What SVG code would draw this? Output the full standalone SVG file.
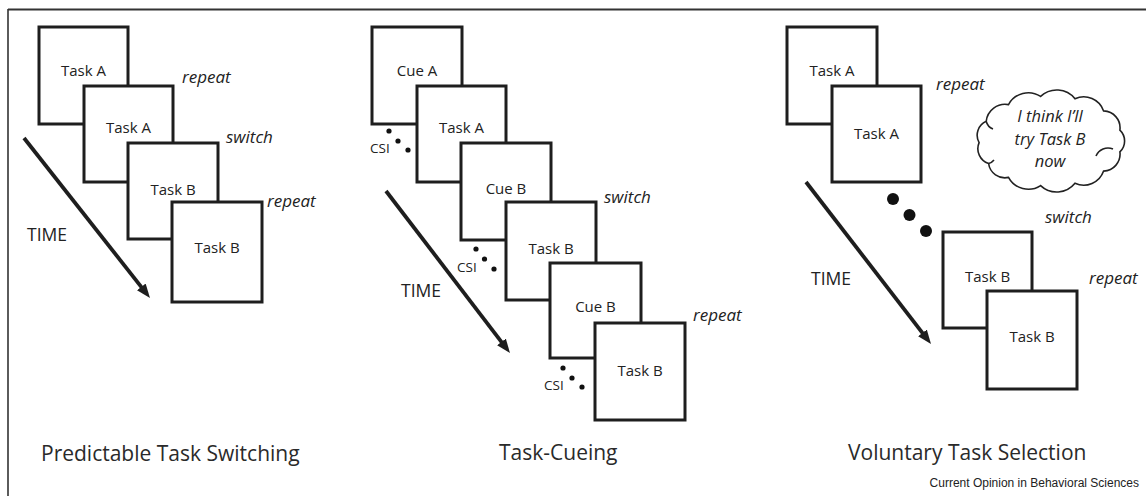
<svg xmlns="http://www.w3.org/2000/svg" width="1146" height="496" viewBox="0 0 1146 496">
<defs>
<style>
.box{fill:#fff;stroke:#1e1e1e;stroke-width:3}
.lbl{font-family:"Open Sans","Noto Sans",sans-serif;font-size:15px;fill:#222;text-anchor:middle}
.it{font-family:"Open Sans","Noto Sans",sans-serif;font-size:17px;font-style:italic;fill:#222}
.time{font-family:"Open Sans","Noto Sans",sans-serif;font-size:17.5px;fill:#222}
.csi{font-family:"Open Sans","Noto Sans",sans-serif;font-size:13.5px;fill:#222}
.title{font-family:"Open Sans","Noto Sans",sans-serif;font-size:21px;fill:#2a2a2a}
.arrow{stroke:#1e1e1e;stroke-width:3.8;fill:none;marker-end:url(#ah)}
.dot{fill:#111}
.cl{fill:none;stroke:#222;stroke-width:1.6}
.cloudtxt{font-family:"Open Sans","Noto Sans",sans-serif;font-size:16.5px;font-style:italic;fill:#222;text-anchor:middle}
</style>
<marker id="ah" viewBox="0 0 14 11" refX="4" refY="5.5" markerWidth="14" markerHeight="11" markerUnits="userSpaceOnUse" orient="auto">
<path d="M0,0 L14,5.5 L0,11 z" fill="#1e1e1e"/>
</marker>
</defs>
<rect x="0" y="0" width="1146" height="496" fill="#fff"/>
<g id="frame">
<line x1="8" y1="9.5" x2="1146" y2="9.5" stroke="#333" stroke-width="2"/>
<line x1="8" y1="9" x2="8" y2="496" stroke="#333" stroke-width="1.6"/>
</g>

<!-- Left panel -->
<g id="left-panel">
<g id="L1"><rect class="box" x="39" y="27" width="89" height="97"/><text class="lbl" x="83.5" y="76">Task A</text></g>
<g id="L2"><rect class="box" x="84" y="86" width="89" height="96"/><text class="lbl" x="128.5" y="133">Task A</text></g>
<g id="L3"><rect class="box" x="128" y="143" width="90" height="96"/><text class="lbl" x="173" y="195">Task B</text></g>
<g id="L4"><rect class="box" x="172" y="202" width="90" height="100"/><text class="lbl" x="217" y="253">Task B</text></g>
<text class="it" x="182" y="83">repeat</text>
<text class="it" x="226" y="143">switch</text>
<text class="it" x="267" y="207">repeat</text>
<text class="time" x="27" y="241">TIME</text>
<text class="title" x="41" y="461">Predictable Task Switching</text>
</g>

<!-- Middle panel -->
<g id="middle-panel">
<g id="M1"><rect class="box" x="372" y="27" width="90" height="97"/><text class="lbl" x="417" y="76">Cue A</text></g>
<g id="M2"><rect class="box" x="417" y="86" width="89" height="96"/><text class="lbl" x="461.5" y="133">Task A</text></g>
<g id="M3"><rect class="box" x="461" y="143" width="90" height="97"/><text class="lbl" x="506" y="194">Cue B</text></g>
<g id="M4"><rect class="box" x="506" y="202" width="90" height="98"/><text class="lbl" x="551" y="254">Task B</text></g>
<g id="M5"><rect class="box" x="550" y="263" width="91" height="95"/><text class="lbl" x="595.5" y="312">Cue B</text></g>
<g id="M6"><rect class="box" x="595" y="323" width="90" height="97"/><text class="lbl" x="640" y="376">Task B</text></g>
<g id="csi1"><text class="csi" x="370" y="153">CSI</text><circle class="dot" cx="389" cy="131" r="2.6"/><circle class="dot" cx="398" cy="141" r="2.6"/><circle class="dot" cx="408" cy="150" r="2.6"/></g>
<g id="csi2"><text class="csi" x="457" y="272">CSI</text><circle class="dot" cx="476" cy="249" r="2.6"/><circle class="dot" cx="484.5" cy="259" r="2.6"/><circle class="dot" cx="494" cy="269" r="2.6"/></g>
<g id="csi3"><text class="csi" x="544" y="390">CSI</text><circle class="dot" cx="563" cy="368" r="2.6"/><circle class="dot" cx="572" cy="378" r="2.6"/><circle class="dot" cx="582" cy="387" r="2.6"/></g>
<text class="it" x="604" y="203">switch</text>
<text class="it" x="693" y="321">repeat</text>
<text class="time" x="401" y="297">TIME</text>
<text class="title" x="499" y="460">Task-Cueing</text>
</g>

<!-- Right panel -->
<g id="right-panel">
<g id="R1"><rect class="box" x="787" y="27" width="90" height="97"/><text class="lbl" x="832" y="76">Task A</text></g>
<g id="R2"><rect class="box" x="832" y="86" width="89" height="96"/><text class="lbl" x="876.5" y="139">Task A</text></g>
<g id="R3"><rect class="box" x="943" y="232" width="89" height="96"/><text class="lbl" x="987.5" y="282">Task B</text></g>
<g id="R4"><rect class="box" x="987" y="291" width="90" height="98"/><text class="lbl" x="1032" y="342">Task B</text></g>
<g id="bigdots"><circle class="dot" cx="893" cy="199" r="6"/><circle class="dot" cx="909.5" cy="215" r="6"/><circle class="dot" cx="926" cy="231" r="6"/></g>
<g id="cloud">
<path d="M988.6,163.5 A15.6,15.6 0 0 1 979.1,142.6 A15.2,15.2 0 0 1 986.2,121.3 A19,19 0 0 1 1008.5,104.6 A22.5,22.5 0 0 1 1040.6,96.4 A23.5,23.5 0 0 1 1075,98.7 A21,21 0 0 1 1103.6,110.9 A17,17 0 0 1 1119.9,130.1 A15,15 0 0 1 1119.9,151.9 A17,17 0 0 1 1103.6,171.1 A21,21 0 0 1 1075,183.3 A23.5,23.5 0 0 1 1040.6,185.6 A22.5,22.5 0 0 1 1008.5,177.4 A16.5,16.5 0 0 1 988.6,163.5 Z" fill="#fff" stroke="#222" stroke-width="1.6"/>
<path class="cl" d="M1096,156 A13,13 0 0 1 1113,149"/>
<path class="cl" d="M986.2,121.3 A11,11 0 0 0 993,129"/>
<path class="cl" d="M988.6,163.5 A10,10 0 0 0 994,160"/>
<text class="cloudtxt" x="1050" y="122">I think I’ll</text>
<text class="cloudtxt" x="1050" y="145">try Task B</text>
<text class="cloudtxt" x="1050" y="167">now</text>
</g>
<text class="it" x="936" y="90">repeat</text>
<text class="it" x="1045" y="223">switch</text>
<text class="it" x="1089" y="284">repeat</text>
<text class="time" x="811" y="285">TIME</text>
<text class="title" x="848" y="460">Voluntary Task Selection</text>
</g>

<g id="connectors">
<line class="arrow" x1="24" y1="138" x2="143.8" y2="290.1"/>
<line class="arrow" x1="386" y1="191" x2="503.9" y2="345.1"/>
<line class="arrow" x1="806" y1="182" x2="924.9" y2="336.1"/>
</g>

<text x="1139" y="487" font-family="'Liberation Sans',Arial,sans-serif" font-size="12" fill="#222" text-anchor="end">Current Opinion in Behavioral Sciences</text>
</svg>
